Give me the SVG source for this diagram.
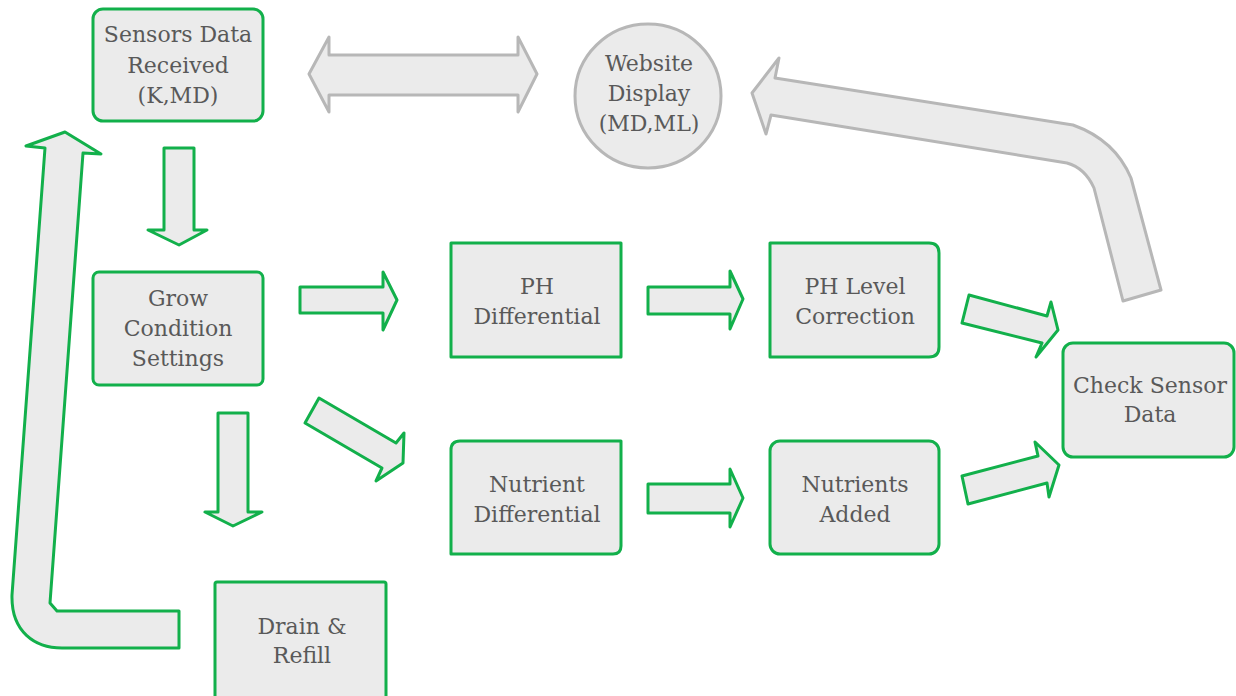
<svg xmlns="http://www.w3.org/2000/svg" width="1236" height="696" viewBox="0 0 1236 696">
<style>
.box{fill:#ebebeb;stroke:#12b04b;stroke-width:3;stroke-linejoin:round}
.gbox{fill:#ebebeb;stroke:#b7b7b7;stroke-width:3;stroke-linejoin:round}
.ga{fill:#ebebeb;stroke:#12b04b;stroke-width:3;stroke-linejoin:round}
.gr{fill:#ebebeb;stroke:#b7b7b7;stroke-width:3;stroke-linejoin:round}
text{font-family:"DejaVu Serif","Liberation Serif",serif;font-size:22px;fill:#595959;text-anchor:middle}
</style>
<rect width="1236" height="696" fill="#ffffff"/>
<g id="connectors">
<polygon class="gr" points="309,74 329,37 329,55 518,55 518,37 537,74 518,112 518,95 329,95 329,112"/>
<path class="gr" d="M1123,301 L1094,188 Q1085,168 1067,163 L771,115 L766,134 L752,93 L779,58 L775,78 L1073,125 Q1115,140 1131,178 L1161,290 Z"/>
<polygon class="ga" points="164,148 194,148 194,230 207,230 179,245 148,230 164,230"/>
<path class="ga" d="M179,611 L57,611 L50,603 L83,153 L101,154 L65,132 L26,146 L45,148 L12,595 C11,632 35,648 62,648 L179,648 Z"/>
<polygon class="ga" points="300,287 383,287 383,272 397,300 383,330 383,313 300,313"/>
<polygon class="ga" points="319,398 396,443 404,433 403,463 376,481 382,468 305,423"/>
<polygon class="ga" points="218,413 248,413 248,512 262,512 233,526 205,512 218,512"/>
<polygon class="ga" points="648,287 730,287 730,271 743,299 730,329 730,314 648,314"/>
<polygon class="ga" points="648,484 730,484 730,469 743,498 730,527 730,513 648,513"/>
<polygon class="ga" points="969,295 1047,316 1051,302 1058,330 1036,357 1042,343 962,323"/>
<polygon class="ga" points="962,476 1038,456 1035,442 1059,465 1049,497 1047,483 968,504"/>
</g>
<g id="sensors">
<rect class="box" x="93" y="9" width="170" height="112" rx="10"/>
<text x="178" y="42">Sensors Data</text>
<text x="178" y="73">Received</text>
<text x="178" y="103">(K,MD)</text>
</g>
<g id="website">
<ellipse class="gbox" cx="648" cy="96" rx="73" ry="72"/>
<text x="649" y="71">Website</text>
<text x="649" y="101">Display</text>
<text x="649" y="131">(MD,ML)</text>
</g>
<g id="grow">
<rect class="box" x="93" y="272" width="170" height="113" rx="6"/>
<text x="178" y="306">Grow</text>
<text x="178" y="336">Condition</text>
<text x="178" y="366">Settings</text>
</g>
<g id="drain">
<rect class="box" x="215" y="582" width="171" height="120" rx="2"/>
<text x="302" y="634">Drain &amp;</text>
<text x="302" y="663">Refill</text>
</g>
<g id="phdiff">
<rect class="box" x="451" y="243" width="170" height="114"/>
<text x="537" y="294">PH</text>
<text x="537" y="324">Differential</text>
</g>
<g id="phlevel">
<path class="box" d="M770,243 L929,243 Q939,243 939,253 L939,347 Q939,357 929,357 L770,357 Z"/>
<text x="855" y="294">PH Level</text>
<text x="855" y="324">Correction</text>
</g>
<g id="nutdiff">
<path class="box" d="M460,441 L621,441 L621,546 Q621,554 613,554 L451,554 L451,450 Q451,441 460,441 Z"/>
<text x="537" y="492">Nutrient</text>
<text x="537" y="522">Differential</text>
</g>
<g id="nutadded">
<rect class="box" x="770" y="441" width="169" height="113" rx="10"/>
<text x="855" y="492">Nutrients</text>
<text x="855" y="522">Added</text>
</g>
<g id="check">
<rect class="box" x="1063" y="343" width="171" height="114" rx="10"/>
<text x="1150" y="393">Check Sensor</text>
<text x="1150" y="422">Data</text>
</g>
</svg>
